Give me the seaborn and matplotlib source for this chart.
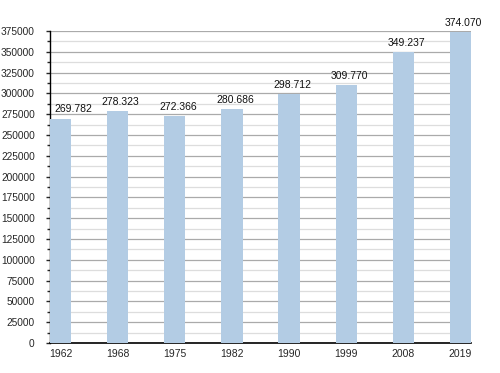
import pandas as pd
import matplotlib.pyplot as plt
import seaborn as sns
from matplotlib.ticker import MultipleLocator

years = ["1962", "1968", "1975", "1982", "1990", "1999", "2008", "2019"]
population = [269782, 278323, 272366, 280686, 298712, 309770, 349237, 374070]
labels = ["269.782", "278.323", "272.366", "280.686", "298.712", "309.770", "349.237", "374.070"]

df = pd.DataFrame({"year": years, "pop": population})

sns.set_style("white")
plt.rcParams["font.family"] = ["Liberation Sans", "DejaVu Sans"]

fig = plt.figure(figsize=(5, 3.73), dpi=100)
ax = fig.add_axes([0.1, 0.0804, 0.842, 0.8366])

sns.barplot(data=df, x="year", y="pop", color="#b3cce4", saturation=1, width=0.37,
            linewidth=0, ax=ax, zorder=3)

ax.set_ylim(0, 375000)
ax.set_xlim(-0.185, 7.185)
ax.yaxis.set_major_locator(MultipleLocator(25000))
ax.yaxis.set_minor_locator(MultipleLocator(12500))
ax.grid(axis="y", which="major", color="#aaaaaa", linewidth=0.9, zorder=0)
ax.grid(axis="y", which="minor", color="#dddddd", linewidth=0.9, zorder=0)
ax.set_axisbelow(True)

# value labels sit slightly right of the bar centre; first one kept clear of the y axis
for i, (v, t) in enumerate(zip(population, labels)):
    dx = 9 if i == 0 else 2.2
    ax.annotate(t, (i, v), xytext=(dx, 3), textcoords="offset points",
                ha="center", va="bottom", fontsize=7.5, color="#111111")

for s in ["top", "right"]:
    ax.spines[s].set_visible(False)
ax.spines["left"].set_color("black")
ax.spines["bottom"].set_color("black")
ax.spines["left"].set_linewidth(1)
ax.spines["bottom"].set_linewidth(1.2)

ax.tick_params(axis="y", which="major", left=True, length=3, width=1, labelsize=7.3, pad=8)
ax.tick_params(axis="y", which="minor", left=True, length=2, width=1)
ax.tick_params(axis="x", bottom=False, labelsize=7.5, pad=1)
ax.set_xlabel("")
ax.set_ylabel("")

plt.savefig("out.png", dpi=100)
